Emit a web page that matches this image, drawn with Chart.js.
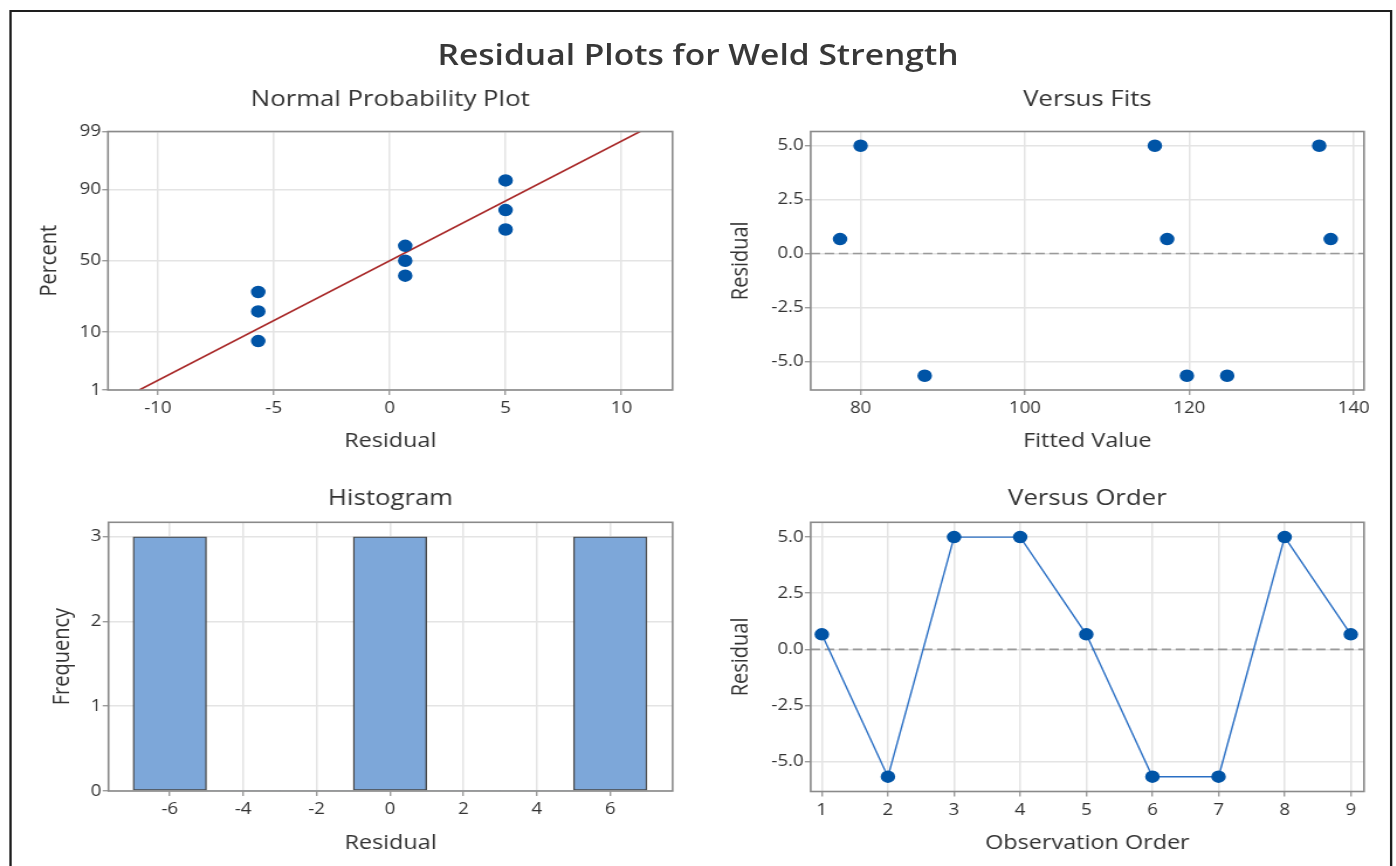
<!DOCTYPE html>
<html>
<head>
<meta charset="utf-8">
<script src="https://cdn.jsdelivr.net/npm/chart.js@4.4.1/dist/chart.umd.min.js"></script>
<style>
  html, body { margin: 0; padding: 0; background: #fff; overflow: hidden; }
  #fig { position: absolute; left: 0; top: 0; height: 866px; transform-origin: 0 0; }
  #frame { position: absolute; border: 2px solid #1e1e1e; box-sizing: border-box; }
  #title { position: absolute; left: 0; text-align: center; white-space: nowrap;
           font-family: 'Open Sans', sans-serif; font-weight: 600; color: #383838; }
  canvas { position: absolute; }
</style>
</head>
<body>
<div id="fig">
  <div id="frame"></div>
  <div id="title">Residual Plots for Weld Strength</div>
  <canvas id="cProb"></canvas>
  <canvas id="cFits"></canvas>
  <canvas id="cHist"></canvas>
  <canvas id="cOrder"></canvas>
</div>
<script>
// ---------------- DATA ----------------
// Normal probability plot
const probResiduals = [-5.67, -5.67, -5.67, 0.67, 0.67, 0.67, 5.0, 5.0, 5.0];
const probPercents  = [7.4, 18.1, 28.7, 39.4, 50.0, 60.6, 71.3, 81.9, 92.6];
const fitLineResiduals = [-10.8, 10.8];
const fitLinePercents  = [1, 99];
const probTickPercents = [1, 10, 50, 90, 99];
const probResidualTicks = [-10, -5, 0, 5, 10];

// Versus fits
const fittedValues  = [77.5, 80.0, 87.8, 115.8, 117.3, 119.7, 124.6, 135.8, 137.2];
const fitsResiduals = [0.67, 5.0, -5.67, 5.0, 0.67, -5.67, -5.67, 5.0, 0.67];
const fittedTicks   = [80, 100, 120, 140];
const residualTicks = [-5, -2.5, 0, 2.5, 5];

// Histogram
const binCenters = [-6, -4, -2, 0, 2, 4, 6];
const binCounts  = [3, 0, 0, 3, 0, 0, 3];
const frequencyTicks = [0, 1, 2, 3];

// Versus order
const observationOrder = [1, 2, 3, 4, 5, 6, 7, 8, 9];
const orderResiduals   = [0.67, -5.67, 5.0, 5.0, 0.67, -5.67, -5.67, 5.0, 0.67];

// ---------------- HELPERS ----------------
function normInv(p) {
  const a = [-3.969683028665376e+01, 2.209460984245205e+02, -2.759285104469687e+02, 1.383577518672690e+02, -3.066479806614716e+01, 2.506628277459239e+00];
  const b = [-5.447609879822406e+01, 1.615858368580409e+02, -1.556989798598866e+02, 6.680131188771972e+01, -1.328068155288572e+01];
  const c = [-7.784894002430293e-03, -3.223964580411365e-01, -2.400758277161838e+00, -2.549732539343734e+00, 4.374664141464968e+00, 2.938163982698783e+00];
  const d = [7.784695709041462e-03, 3.224671290700398e-01, 2.445134137142996e+00, 3.754408661907416e+00];
  const pl = 0.02425, ph = 1 - pl;
  let q, r;
  if (p < pl) { q = Math.sqrt(-2 * Math.log(p)); return (((((c[0]*q+c[1])*q+c[2])*q+c[3])*q+c[4])*q+c[5]) / ((((d[0]*q+d[1])*q+d[2])*q+d[3])*q+1); }
  if (p <= ph) { q = p - 0.5; r = q*q; return (((((a[0]*r+a[1])*r+a[2])*r+a[3])*r+a[4])*r+a[5])*q / (((((b[0]*r+b[1])*r+b[2])*r+b[3])*r+b[4])*r+1); }
  q = Math.sqrt(-2 * Math.log(1 - p));
  return -(((((c[0]*q+c[1])*q+c[2])*q+c[3])*q+c[4])*q+c[5]) / ((((d[0]*q+d[1])*q+d[2])*q+d[3])*q+1);
}
const z = pct => normInv(pct / 100);

// ---------------- LAYOUT / STYLE ----------------
const K = 1.17;                 // horizontal stretch of the reference picture
const W = 1396, H = 866;
const FONT = "'Open Sans', sans-serif";
const TXT = '#333333';
const TITLE_SIZE = 22, AXIS_SIZE = 20, TICK_SIZE = 16;
const BLUE = '#0054a6';

const fig = document.getElementById('fig');
fig.style.width = (W / K) + 'px';
fig.style.transform = 'scaleX(' + K + ')';
Object.assign(document.getElementById('frame').style, {
  left: (9 / K) + 'px', top: '10px', width: ((1392 - 9) / K) + 'px', height: '900px'
});
Object.assign(document.getElementById('title').style, {
  width: (W / K) + 'px', top: '36px', fontSize: '28.7px', lineHeight: '36px'
});

const GEO = {
  prob:  {L: 108,   T: 131.5, R: 672.5, B: 390,   titleY: 100, xTitleY: 441.7, yTitleX: 50},
  fits:  {L: 810.7, T: 131.5, R: 1364,  B: 390,   titleY: 100, xTitleY: 441.7, yTitleX: 741},
  hist:  {L: 108.5, T: 522.3, R: 672.6, B: 791,   titleY: 499, xTitleY: 843,   yTitleX: 62.8},
  order: {L: 810.7, T: 522.3, R: 1364,  B: 791.5, titleY: 499, xTitleY: 843,   yTitleX: 741}
};

const framePlugin = {
  id: 'plotFrame',
  afterDraw(chart) {
    const {ctx, chartArea: a} = chart;
    ctx.save();
    ctx.strokeStyle = '#8a8a8a';
    ctx.lineWidth = 1.6;
    ctx.strokeRect(a.left, a.top, a.right - a.left, a.bottom - a.top);
    ctx.restore();
  }
};
const refLinePlugin = {
  id: 'refLine',
  beforeDatasetsDraw(chart, args, opts) {
    if (!opts || opts.value === undefined) return;
    const {ctx, chartArea: a, scales: {y}} = chart;
    const py = y.getPixelForValue(opts.value);
    ctx.save();
    ctx.strokeStyle = '#9a9a9a';
    ctx.lineWidth = 1.6;
    ctx.setLineDash([8, 4]);
    ctx.beginPath(); ctx.moveTo(a.left, py); ctx.lineTo(a.right, py); ctx.stroke();
    ctx.restore();
  }
};

function axis(pos, min, max, tickVals, fmt, titleText, fixedSize, titlePad) {
  const left = pos === 'left';
  return {
    type: 'linear', position: pos, min: min, max: max,
    afterBuildTicks: s => { s.ticks = tickVals.map(v => ({value: v})); },
    afterFit: s => { if (left) s.width = fixedSize; else s.height = fixedSize; },
    ticks: {
      callback: (v, i) => fmt(v, i),
      font: {family: FONT, size: TICK_SIZE, lineHeight: 1.2},
      color: TXT, padding: left ? 1 : 4, maxRotation: 0, autoSkip: false
    },
    grid: {color: '#e4e4e4', lineWidth: 1.5, tickLength: 5, tickColor: '#8c8c8c', tickWidth: 1.2, drawTicks: true, offset: false},
    border: {display: false},
    offset: false,
    title: {
      display: true, text: titleText, color: TXT,
      font: {family: FONT, size: AXIS_SIZE, lineHeight: 1.2},
      padding: left ? {top: titlePad, bottom: 0} : {top: 0, bottom: titlePad}
    }
  };
}

function build(id, geo, spec) {
  const left = Math.floor((geo.L - 92) / K);
  const right = Math.ceil((geo.R + 20) / K);
  const top = Math.floor(geo.T - 52);
  const bottom = Math.ceil(geo.B + 72);
  const cv = document.getElementById(id);
  cv.width = right - left; cv.height = bottom - top;
  Object.assign(cv.style, {left: left + 'px', top: top + 'px', width: (right - left) + 'px', height: (bottom - top) + 'px'});
  const yAxisW = geo.L / K - left;
  const xAxisH = bottom - geo.B;
  const padRight = right - geo.R / K;
  const tLH = TITLE_SIZE * 1.2, aLH = AXIS_SIZE * 1.2;
  const tTop = geo.titleY - top - tLH / 2;
  const tBot = (geo.T - top) - tLH - tTop;
  const yTitlePad = (geo.yTitleX / K - left) - aLH / 2;
  const xTitlePad = (bottom - geo.xTitleY) - aLH / 2;

  return new Chart(cv, {
    type: spec.type,
    data: {datasets: spec.datasets},
    plugins: [framePlugin, refLinePlugin],
    options: {
      responsive: false, animation: false, events: [],
      layout: {padding: {left: 0, top: 0, bottom: 0, right: padRight}},
      plugins: {
        legend: {display: false}, tooltip: {enabled: false},
        title: {display: true, text: spec.title, fullSize: false, color: TXT,
                font: {family: FONT, size: TITLE_SIZE, weight: 'normal', lineHeight: 1.2},
                padding: {top: tTop, bottom: tBot}},
        refLine: spec.refLine || {}
      },
      scales: {
        x: axis('bottom', spec.x.min, spec.x.max, spec.x.ticks, spec.x.fmt, spec.x.title, xAxisH, xTitlePad),
        y: axis('left', spec.y.min, spec.y.max, spec.y.ticks, spec.y.fmt, spec.y.title, yAxisW, yTitlePad)
      }
    }
  });
}

const pointStyle = {pointRadius: 5.5, pointBorderWidth: 1.5, pointBackgroundColor: BLUE, pointBorderColor: BLUE, pointHoverRadius: 5.5};
const plain = v => String(v);
const oneDec = v => v.toFixed(1);

// Normal probability plot
build('cProb', GEO.prob, {
  type: 'scatter',
  title: 'Normal Probability Plot',
  datasets: [
    Object.assign({data: probResiduals.map((r, i) => ({x: r, y: z(probPercents[i])})), showLine: false, order: 1}, pointStyle),
    {data: fitLineResiduals.map((r, i) => ({x: r, y: z(fitLinePercents[i])})), showLine: true,
     borderColor: '#a82828', borderWidth: 1.6, pointRadius: 0, order: 2}
  ],
  x: {min: -12.15, max: 12.2, ticks: probResidualTicks, fmt: plain, title: 'Residual'},
  y: {min: z(1), max: z(99), ticks: probTickPercents.map(z), fmt: (v, i) => String(probTickPercents[i]), title: 'Percent'}
});

// Versus fits
build('cFits', GEO.fits, {
  type: 'scatter',
  title: 'Versus Fits',
  refLine: {value: 0},
  datasets: [
    Object.assign({data: fittedValues.map((f, i) => ({x: f, y: fitsResiduals[i]})), showLine: false}, pointStyle)
  ],
  x: {min: 73.93, max: 141.25, ticks: fittedTicks, fmt: plain, title: 'Fitted Value'},
  y: {min: -6.33, max: 5.66, ticks: residualTicks, fmt: oneDec, title: 'Residual'}
});

// Histogram
build('cHist', GEO.hist, {
  type: 'bar',
  title: 'Histogram',
  datasets: [{
    data: binCenters.map((c, i) => ({x: c, y: binCounts[i]})),
    backgroundColor: '#7da7d9', borderColor: '#474747',
    borderWidth: ctx => (ctx.raw && ctx.raw.y > 0) ? 1.4 : 0,
    borderSkipped: false, barPercentage: 1, categoryPercentage: 1
  }],
  x: {min: -7.67, max: 7.7, ticks: binCenters, fmt: plain, title: 'Residual'},
  y: {min: 0, max: 3.17, ticks: frequencyTicks, fmt: plain, title: 'Frequency'}
});

// Versus order
build('cOrder', GEO.order, {
  type: 'scatter',
  title: 'Versus Order',
  refLine: {value: 0},
  datasets: [
    Object.assign({data: observationOrder.map((o, i) => ({x: o, y: orderResiduals[i]})), showLine: true,
                   borderColor: '#2a6fc4', borderWidth: 1.4}, pointStyle)
  ],
  x: {min: 0.832, max: 9.2, ticks: observationOrder, fmt: plain, title: 'Observation Order'},
  y: {min: -6.33, max: 5.66, ticks: residualTicks, fmt: oneDec, title: 'Residual'}
});
</script>
</body>
</html>
